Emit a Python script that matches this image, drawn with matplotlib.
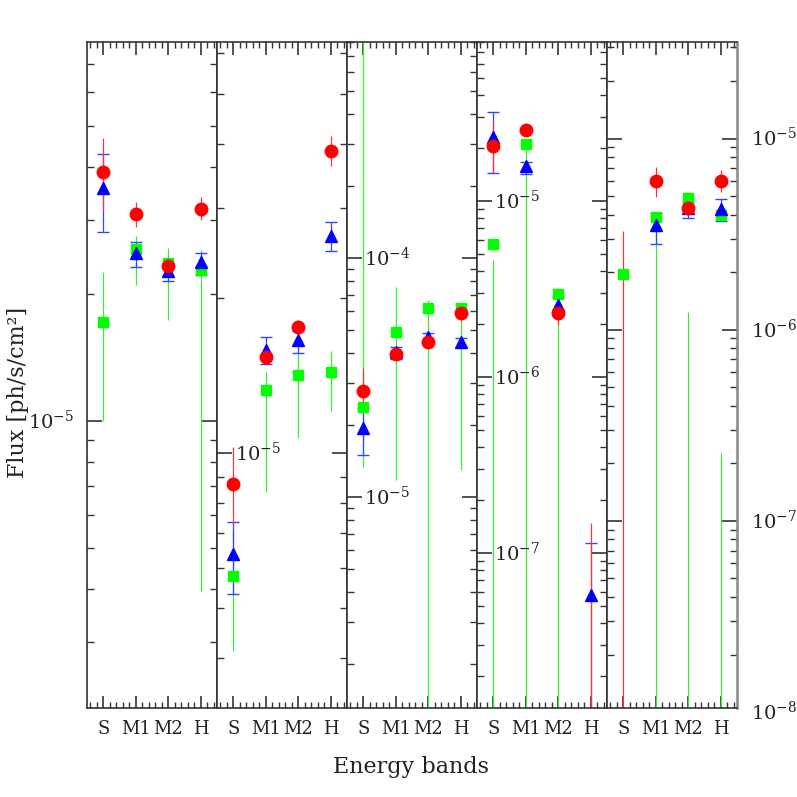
import numpy as np
import matplotlib
matplotlib.use('Agg')
import matplotlib.pyplot as plt
import matplotlib.transforms as mtransforms
from matplotlib.ticker import LogLocator, NullFormatter, MultipleLocator, FixedLocator, FixedFormatter

nan = np.nan
OFF = 1e-12  # error bar running off the bottom of the panel

bands = ['S', 'M1', 'M2', 'H']

# y range of each of the five panels
ylims = [(2.09e-6, 7.9e-5), (3.2e-6, 6.3e-5), (1.31e-6, 8.0e-4),
         (1.31e-8, 8.0e-5), (1.05e-8, 3.2e-5)]

# red circles
red_flux = [[3.89e-5, 3.09e-5, 2.33e-5, 3.18e-5],
            [8.7e-6, 1.54e-5, 1.76e-5, 3.86e-5],
            [2.78e-5, 3.97e-5, 4.45e-5, 5.89e-5],
            [2.05e-5, 2.53e-5, 2.31e-6, nan],
            [nan, 6.03e-6, 4.35e-6, 6.03e-6]]
red_lo = [[3.16e-5, 2.88e-5, 2.2e-5, 2.99e-5],
          [7.3e-6, 1.49e-5, 1.70e-5, 3.62e-5],
          [2.43e-5, 3.78e-5, 4.25e-5, 5.51e-5],
          [1.44e-5, 2.45e-5, 1.97e-6, OFF],
          [OFF, 4.97e-6, 4.0e-6, 5.28e-6]]
red_hi = [[4.69e-5, 3.30e-5, 2.45e-5, 3.40e-5],
          [1.03e-5, 1.59e-5, 1.82e-5, 4.13e-5],
          [3.47e-5, 4.25e-5, 4.67e-5, 6.30e-5],
          [2.81e-5, 2.62e-5, 2.67e-6, 1.48e-7],
          [3.30e-6, 7.14e-6, 4.73e-6, 6.88e-6]]

# blue triangles
blue_flux = [[3.57e-5, 2.50e-5, 2.27e-5, 2.38e-5],
             [6.37e-6, 1.59e-5, 1.66e-5, 2.65e-5],
             [1.94e-5, 4.04e-5, 4.67e-5, 4.45e-5],
             [2.31e-5, 1.58e-5, 2.56e-6, 5.77e-8],
             [nan, 3.51e-6, 4.35e-6, 4.30e-6]]
blue_lo = [[2.80e-5, 2.32e-5, 2.14e-5, 2.22e-5],
           [5.32e-6, 1.49e-5, 1.57e-5, 2.47e-5],
           [1.50e-5, 3.78e-5, 4.45e-5, 4.25e-5],
           [1.44e-5, 1.42e-5, 2.31e-6, OFF],
           [nan, 2.82e-6, 3.86e-6, 3.72e-6]]
blue_hi = [[4.29e-5, 2.66e-5, 2.37e-5, 2.50e-5],
           [7.34e-6, 1.68e-5, 1.73e-5, 2.81e-5],
           [2.36e-5, 4.25e-5, 4.85e-5, 4.63e-5],
           [3.2e-5, 1.67e-5, 2.85e-6, 1.14e-7],
           [nan, 4.10e-6, 4.68e-6, 4.85e-6]]

# green squares
green_flux = [[1.72e-5, 2.56e-5, 2.37e-5, 2.28e-5],
              [5.77e-6, 1.33e-5, 1.42e-5, 1.44e-5],
              [2.38e-5, 4.90e-5, 6.18e-5, 6.18e-5],
              [5.70e-6, 2.11e-5, 2.96e-6, nan],
              [1.96e-6, 3.91e-6, 4.91e-6, 4.0e-6]]
green_lo = [[1.0e-5, 2.10e-5, 1.73e-5, 3.95e-6],
            [4.13e-6, 8.4e-6, 1.07e-5, 1.21e-5],
            [1.34e-5, 1.18e-5, OFF, 1.30e-5],
            [OFF, OFF, OFF, nan],
            [nan, OFF, OFF, OFF]]
green_hi = [[2.25e-5, 2.74e-5, 2.57e-5, 2.54e-5],
            [7.1e-6, 1.44e-5, 1.58e-5, 1.58e-5],
            [1e-2, 7.56e-5, 6.67e-5, 6.5e-5],
            [4.62e-6, 2.11e-5, 2.96e-6, nan],
            [nan, 4.10e-6, 1.24e-6, 2.27e-7]]

# decade labels of each panel: (axes x, value, alignment)
panel_labels = [[(-0.10, 1e-5, 'right')],
                [(0.14, 1e-5, 'left')],
                [(0.13, 1e-4, 'left'), (0.13, 1e-5, 'left')],
                [(0.13, 1e-5, 'left'), (0.13, 1e-6, 'left'), (0.13, 1e-7, 'left')],
                [(1.11, 1e-5, 'left'), (1.11, 1e-6, 'left'), (1.11, 1e-7, 'left'), (1.11, 1e-8, 'left')]]

plt.rcParams['font.family'] = 'DejaVu Serif'
plt.rcParams['mathtext.fontset'] = 'dejavuserif'

fig = plt.figure(figsize=(7.97, 7.97), dpi=100)
x = np.arange(1, 5)
W, H = 797.0, 797.0
tick_c = '#333333'


def draw_range(ax, xs, vals, lo, hi, color, cap):
    for xi, v, l, h in zip(xs, vals, lo, hi):
        if not np.isnan(l) and not np.isnan(h):
            ax.vlines(xi, l, h, color=color, lw=0.9, zorder=2)
            if cap:
                ax.plot([xi, xi], [l, h], ls='none', marker='_', ms=9,
                        mew=1.0, color=color, zorder=2)


for i in range(5):
    ax = fig.add_axes([(87 + 130 * i) / W, (797 - 708) / H, 130 / W, 666 / H])
    ax.set_yscale('log')
    ax.set_xlim(0.5, 4.5)
    ax.set_ylim(*ylims[i])

    draw_range(ax, x, green_flux[i], green_lo[i], green_hi[i], '#33ee33', False)
    ax.plot(x, green_flux[i], ls='none', marker='s', ms=6.5, color='#00ff00',
            mec='#00ff00', zorder=3)
    draw_range(ax, x, blue_flux[i], blue_lo[i], blue_hi[i], '#3344ff', True)
    ax.plot(x, blue_flux[i], ls='none', marker='^', ms=8, color='#0000ff',
            mec='#0000ff', zorder=4)
    draw_range(ax, x, red_flux[i], red_lo[i], red_hi[i], '#ff3333', False)
    ax.plot(x, red_flux[i], ls='none', marker='o', ms=9, color='#ff0000',
            mec='#ff0000', zorder=5)

    ax.xaxis.set_major_locator(FixedLocator(x))
    ax.xaxis.set_major_formatter(FixedFormatter(bands))
    ax.xaxis.set_minor_locator(MultipleLocator(0.2))
    ax.yaxis.set_major_locator(LogLocator(base=10, numticks=20))
    ax.yaxis.set_minor_locator(LogLocator(base=10, subs=np.arange(2, 10), numticks=20))
    ax.yaxis.set_major_formatter(NullFormatter())
    ax.yaxis.set_minor_formatter(NullFormatter())

    ax.tick_params(axis='x', which='major', direction='in', top=True, length=9,
                   width=1.2, color=tick_c, labelsize=13, pad=9,
                   labelcolor='#222222')
    ax.tick_params(axis='x', which='minor', direction='in', top=True, length=4.5,
                   width=1.0, color=tick_c)
    ax.tick_params(axis='y', which='major', direction='in', left=True, right=True,
                   length=11, width=1.2, color=tick_c)
    ax.tick_params(axis='y', which='minor', direction='in', left=True, right=True,
                   length=5, width=1.0, color=tick_c)
    for sp in ax.spines.values():
        sp.set_color(tick_c)
        sp.set_linewidth(1.2)
    if i == 4:
        ax.spines['right'].set_color('#888888')
        ax.spines['right'].set_linewidth(1.8)

    trans = mtransforms.blended_transform_factory(ax.transAxes, ax.transData)
    for px, val, ha in panel_labels[i]:
        exp = int(round(np.log10(val)))
        ax.text(px, val, r'$10^{%d}$' % exp, transform=trans, ha=ha, va='center',
                fontsize=14, color='#222222', clip_on=False, zorder=6)

fig.text(411 / W, 1 - 767 / H, 'Energy bands', ha='center', va='center',
         fontsize=16, color='#222222')
fig.text(18 / W, 1 - 392 / H, 'Flux [ph/s/cm²]', ha='center', va='center',
         rotation=90, fontsize=16, color='#222222')

fig.savefig('out.png', dpi=100)
